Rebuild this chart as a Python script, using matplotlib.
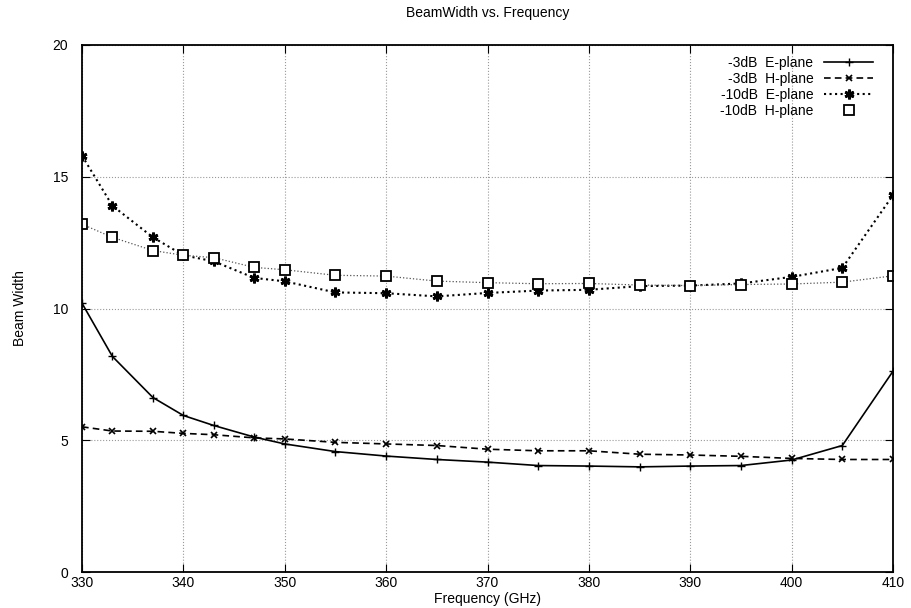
import matplotlib
matplotlib.use("Agg")
import matplotlib.pyplot as plt

plt.rcParams["font.family"] = ["Liberation Sans", "DejaVu Sans"]
plt.rcParams["font.size"] = 10

# frequencies (GHz)
freq = [330, 333, 337, 340, 343, 347, 350, 355, 360, 365,
        370, 375, 380, 385, 390, 395, 400, 405, 410]

# beam widths
e3 = [10.2, 8.18, 6.62, 5.94, 5.56, 5.12, 4.86, 4.57, 4.40, 4.27,
      4.17, 4.04, 4.02, 3.99, 4.02, 4.04, 4.25, 4.8, 7.62]
h3 = [5.51, 5.35, 5.34, 5.26, 5.21, 5.09, 5.05, 4.92, 4.86, 4.80,
      4.66, 4.60, 4.60, 4.47, 4.44, 4.39, 4.31, 4.27, 4.27]
e10 = [15.8, 13.9, 12.7, 12.02, 11.79, 11.16, 11.03, 10.61, 10.58, 10.46,
       10.59, 10.68, 10.71, 10.85, 10.87, 10.95, 11.2, 11.54, 14.3]
h10 = [13.2, 12.7, 12.2, 12.02, 11.93, 11.56, 11.47, 11.26, 11.23, 11.04,
       10.98, 10.94, 10.95, 10.89, 10.87, 10.91, 10.93, 11.0, 11.24]

xticks = [330, 340, 350, 360, 370, 380, 390, 400, 410]
yticks = [0, 5, 10, 15, 20]

fig = plt.figure(figsize=(9.12, 6.08), dpi=100)
ax = fig.add_axes([82 / 912, 1 - 572 / 608, 811 / 912, 527 / 608])

ax.plot(freq, e3, "-", color="black", lw=1.2, marker="+", ms=6, mew=1.0,
        label="-3dB  E-plane")
ax.plot(freq, h3, "--", color="black", lw=1.2, dashes=(4, 2.5), marker="x",
        ms=5, mew=1.2, label="-3dB  H-plane")
ax.plot(freq, e10, ":", color="black", lw=1.5, marker=(6, 2, 0), ms=7,
        mew=2.0, label="-10dB  E-plane")
ax.plot(freq, h10, ":", color="#555555", lw=0.9)
ax.plot(freq, h10, linestyle="none", color="black", marker="s", ms=7,
        mfc="white", mew=1.3, label="-10dB  H-plane")

ax.set_xlim(330, 410)
ax.set_ylim(0, 20)
ax.set_xticks(xticks)
ax.set_yticks(yticks)
ax.grid(True, ls=":", color="#999999", lw=0.8)
ax.tick_params(direction="in", top=True, right=True, length=6)
ax.tick_params(axis="x", pad=3)
ax.tick_params(axis="y", pad=10)
for s in ax.spines.values():
    s.set_linewidth(1.3)

ax.set_title("BeamWidth vs. Frequency", fontsize=10, pad=20)
ax.set_xlabel("Frequency (GHz)", fontsize=10, labelpad=1)
ax.set_ylabel("Beam Width", fontsize=10, labelpad=18)

leg = ax.legend(loc="upper right", frameon=False, markerfirst=False,
                handlelength=3.5, handletextpad=0.8, labelspacing=0.15,
                borderaxespad=0, borderpad=0,
                bbox_to_anchor=(873 / 912, 1 - 56 / 608),
                bbox_transform=fig.transFigure, fontsize=10)
for t in leg.get_texts():
    t.set_ha("right")

fig.savefig("out.png", dpi=100)
